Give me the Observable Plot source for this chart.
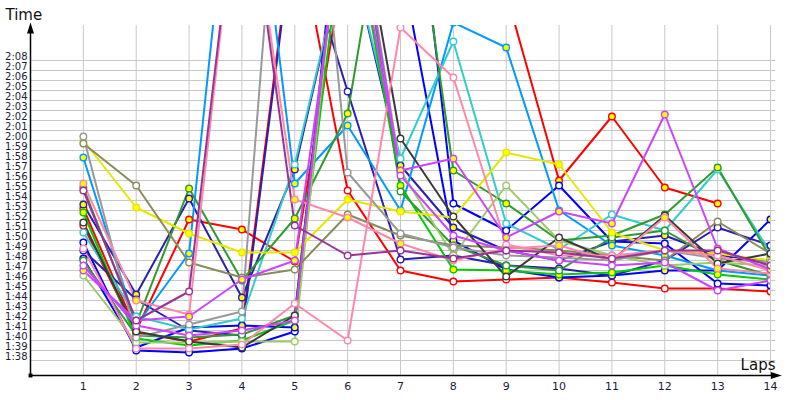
<!DOCTYPE html>
<html><head><meta charset="utf-8">
<script src="https://cdn.jsdelivr.net/npm/d3@7"></script>
<script src="https://cdn.jsdelivr.net/npm/@observablehq/plot@0.6"></script>
<style>body{margin:0;background:#fff} #chart{width:800px;height:400px}</style>
</head><body><div id="chart"></div>
<script>
// Laps (x) and time tick labels (y)
const laps = [1,2,3,4,5,6,7,8,9,10,11,12,13,14];
const timeTicks = ["1:38","1:39","1:40","1:41","1:42","1:43","1:44","1:45","1:46","1:47","1:48","1:49","1:50","1:51","1:52","1:53","1:54","1:55","1:56","1:57","1:58","1:59","2:00","2:01","2:02","2:03","2:04","2:05","2:06","2:07","2:08"];

// Lap times in seconds, one array per driver (values above 2:11 are pit laps, off the chart)
const redA      = [113.2,101.0,112.1,111.1,107.9,140,145,140,134.7,116.0,122.4,115.3,113.7,null];
const redB      = [111.5,100.8,99.9,101.2,142.5,115.0,107.0,105.9,106.1,106.3,105.8,105.2,105.2,104.9];
const blueA     = [109.8,99.0,98.8,99.2,100.9,153,160,113.7,111.0,115.5,109.9,109.7,105.7,105.5];
const blueB     = [108.2,99.3,101.3,101.5,101.3,150,138,110.0,107.1,106.3,106.5,107.0,107.0,112.1];
const navyA     = [113.6,104.6,114.2,104.3,117.1,140,117.5,111.3,109.0,108.0,109.9,110.5,108.5,108.0];
const navyB     = [109.0,104.1,101.0,100.5,142,124.9,108.1,108.5,107.5,107.2,106.5,108.0,111.3,109.5];
const lightBlue = [118.3,101.5,108.7,159,115.7,121.5,113.0,131.8,129.3,113.0,109.5,108.5,107.0,106.5];
const cyan      = [110.8,102.4,101.1,102.2,117.6,140,118.2,129.9,111.7,109.1,112.6,111.0,117.1,108.8];
const green     = [112.8,100.2,99.5,100.0,102.0,145,115.5,107.1,107.0,106.6,106.8,107.5,106.6,106.1];
const darkGreenA= [115.3,101.7,115.2,106.0,112.2,122.7,154,117.0,113.7,110.0,110.5,112.6,117.3,108.3];
const darkGreenB= [108.0,100.5,100.3,100.6,102.5,150,114.9,109.5,107.5,107.0,110.3,111.0,108.0,106.5];
const lightGreen= [106.5,99.8,99.8,99.9,99.9,150,117.0,108.5,115.5,110.0,108.5,107.5,107.8,107.5];
const yellow    = [120.0,113.3,110.7,108.8,108.8,114.1,112.9,112.3,118.8,117.6,110.8,109.0,108.7,108.0];
const olive     = [119.7,115.5,107.8,106.3,107.1,112.6,110.5,109.5,109.3,109.0,108.5,108.0,111.9,108.7];
const gray      = [120.4,100.3,101.6,102.9,170,116.8,110.7,109.3,108.5,108.3,108.0,109.0,108.2,107.8];
const darkGray  = [111.8,100.9,99.9,99.3,102.5,150,120.2,112.4,106.4,110.3,108.0,112.5,107.7,108.7];
const pinkA     = [115.7,104.0,102.6,150,114.1,112.3,109.7,108.0,109.2,109.5,108.0,112.3,107.2,106.7];
const pinkB     = [109.2,99.2,99.2,99.6,103.7,100.0,131.3,126.3,109.6,108.5,108.5,109.0,108.5,107.0];
const violetA   = [107.0,102.0,102.4,106.1,108.0,145,117.0,118.2,110.3,112.9,111.7,122.6,109.2,107.1];
const violetB   = [107.5,101.5,100.5,101.0,102.0,150,116.5,110.5,109.0,108.0,107.5,107.8,105.0,106.0];
const purple    = [115.0,102.0,104.9,150,111.5,108.5,109.0,108.2,109.0,108.8,108.2,109.0,109.0,107.5];

const seriesNames  = ["redA","redB","blueA","blueB","navyA","navyB","lightBlue","cyan","green","darkGreenA","darkGreenB","lightGreen","yellow","olive","gray","darkGray","pinkA","pinkB","violetA","violetB","purple"];
const seriesValues = [redA,redB,blueA,blueB,navyA,navyB,lightBlue,cyan,green,darkGreenA,darkGreenB,lightGreen,yellow,olive,gray,darkGray,pinkA,pinkB,violetA,violetB,purple];
const seriesColors = ["#ff0000","#ff0000","#0000ff","#0000ff","#2a1fb0","#2a1fb0","#0099ff","#33cccc","#00cc00","#2e9b2e","#2e9b2e","#99cc66","#e6e600","#8b8b5a","#999999","#3a3a3a","#ff88aa","#ff88aa","#cc44ff","#cc44ff","#993399"];
const seriesFills  = ["#ffff00","#ffffff","#ffffff","#ffff00","#ffff00","#ffffff","#ffff00","#ffffff","#ffff00","#ffff00","#ffffff","#ffffff","#ffff00","#ffffff","#ffffff","#ffffff","#ffff00","#ffffff","#ffff00","#ffffff","#ffffff"];

const toSec = s => { const [m, ss] = s.split(":"); return +m * 60 + +ss; };
const gridSecs = timeTicks.map(toSec);

const rows = [];
seriesValues.forEach((vals, k) => vals.forEach((v, i) => {
  if (v != null) rows.push({name: seriesNames[k], lap: laps[i], t: v, color: seriesColors[k], fill: seriesFills[k]});
}));

const arrowUp = {draw(c) { c.moveTo(0, -5); c.lineTo(3.5, 6); c.lineTo(-3.5, 6); c.closePath(); }};

const chart = Plot.plot({
  width: 800, height: 400,
  marginLeft: 30, marginRight: 30, marginTop: 25, marginBottom: 25,
  x: {domain: [0, 14], axis: null},
  y: {domain: [96.5, 131.5], axis: null},
  color: {type: "identity"},
  style: {fontFamily: "DejaVu Sans", background: "white", overflow: "visible"},
  marks: [
    Plot.ruleY(gridSecs, {x1: 0, x2: 14.1, stroke: "#c8c8c8", strokeWidth: 1}),
    Plot.ruleX(laps, {y1: 96.5, y2: 131.5, stroke: "#c8c8c8", strokeWidth: 1}),
    Plot.line(rows, {x: "lap", y: "t", z: "name", stroke: "color", strokeWidth: 2, clip: true}),
    Plot.dot(rows, {x: "lap", y: "t", fill: "fill", stroke: "color", r: 3.3, strokeWidth: 1.4, clip: true}),
    Plot.ruleX([0], {y1: 96.5, y2: 131.0, stroke: "black", strokeWidth: 1.5}),
    Plot.ruleY([96.5], {x1: 0, x2: 14.1, stroke: "black", strokeWidth: 1.5}),
    Plot.dot([0], {x: 0, y: 131.3, symbol: arrowUp, fill: "black", stroke: "none"}),
    Plot.dot([0], {x: 14.12, y: 96.5, symbol: arrowUp, rotate: 90, fill: "black", stroke: "none"}),
    Plot.dot([0], {x: 0, y: 96.5, symbol: "square", r: 2.2, fill: "black", stroke: "none"}),
    Plot.text(timeTicks, {x: 0, y: toSec, text: d => d, dx: -3, dy: -4, textAnchor: "end", fontSize: 10, fill: "#1b1b3a"}),
    Plot.text(laps, {x: d => d, y: 96.5, text: d => String(d), dy: 11, fontSize: 11, fill: "#1b1b3a"}),
    Plot.text(["Time"], {frameAnchor: "top-left", text: d => d, dx: -25, dy: -10, textAnchor: "start", lineAnchor: "middle", fontSize: 15, fill: "#111"}),
    Plot.text(["Laps"], {frameAnchor: "bottom-right", text: d => d, dx: 5, dy: -10, textAnchor: "end", lineAnchor: "middle", fontSize: 15, fill: "#111"})
  ]
});
document.getElementById("chart").appendChild(chart);
</script>
</body></html>
